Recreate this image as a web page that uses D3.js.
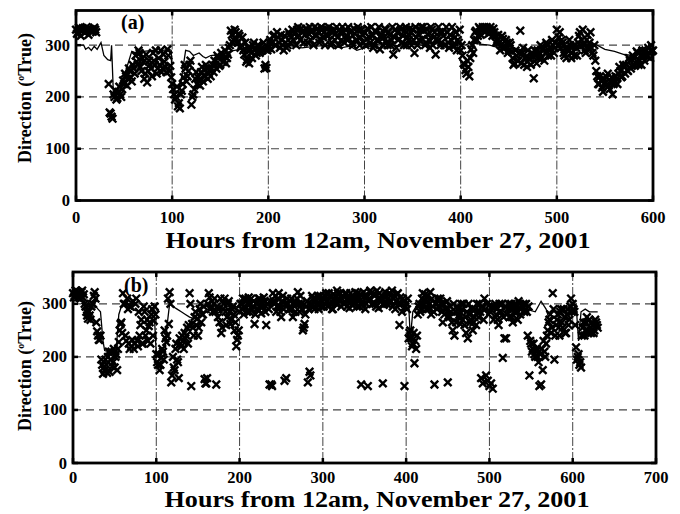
<!DOCTYPE html>
<html><head><meta charset="utf-8">
<script src="https://cdn.jsdelivr.net/npm/d3@7"></script>
<style>
html,body{margin:0;padding:0;background:#fff;}
svg{display:block;font-family:"Liberation Serif","Times New Roman",serif;font-weight:bold;}
</style></head>
<body><svg id="chart" width="680" height="514"></svg>
<script>
// ---------- DATA ----------
const xTicksA = [0,100,200,300,400,500,600];
const xTicksB = [0,100,200,300,400,500,600,700];
const yTicks = [0,100,200,300];
const xTitle = "Hours from 12am, November 27, 2001";

// Panel (a): observed hourly directions. Even hours (0,2,4,...) and odd hours (1,3,5,...); null = no data
const dirAeven = [
330,325,332,328,330,326,331,329,330,327,
330,null,null,null,null,null,null,225,168,158,
200,195,210,205,215,225,240,235,250,230,
255,280,262,285,250,268,245,228,270,255,
285,262,245,275,290,255,268,248,280,260,
225,205,200,182,178,212,238,255,240,262,
185,205,235,225,232,248,230,240,255,245,
240,262,270,255,275,262,278,270,265,282,
300,320,310,325,305,318,300,290,305,272,
265,285,300,292,285,298,288,290,255,256,
295,310,305,320,300,315,295,310,290,305,
300,320,315,310,325,330,318,332,328,320,
330,322,310,328,335,318,326,312,330,325,
332,318,328,305,330,322,315,330,310,325,
330,318,312,328,300,322,310,330,315,320,
325,312,330,305,318,300,325,310,292,320,
315,330,300,320,310,282,330,325,312,330,
318,328,300,310,325,330,285,315,322,330,
312,328,305,320,295,330,315,282,308,325,
305,318,300,325,295,310,300,315,290,305,
290,280,262,245,258,275,300,310,328,318,
332,330,333,328,331,330,326,332,318,310,
305,300,312,295,305,290,300,275,265,280,
270,328,285,262,278,290,272,285,236,280,
290,282,275,295,285,300,290,280,300,295,
330,315,295,305,280,275,290,300,285,280,
295,305,325,310,300,285,320,305,295,280,
270,240,225,232,210,228,238,222,230,205,
228,235,245,250,240,258,262,250,270,260,
275,265,285,270,262,280,290,278,285,300,
290
];
const dirAodd = [
322,334,318,333,324,335,320,331,326,334,
325,null,null,null,null,null,null,170,162,205,
212,198,220,200,232,245,222,255,238,262,
245,268,290,258,275,235,282,250,262,240,
270,290,255,262,248,282,258,292,250,238,
215,195,220,188,205,225,262,230,250,270,
200,215,248,238,222,258,242,262,235,252,
255,248,262,280,260,285,268,290,275,295,
328,305,330,312,322,295,315,282,268,295,
290,275,305,280,300,285,295,305,262,290,
305,292,318,300,325,305,320,300,318,295,
325,305,330,322,300,335,310,325,305,332,
305,335,325,300,320,332,305,335,315,300,
318,335,300,325,310,335,300,325,335,305,
312,335,325,305,332,310,335,300,330,305,
300,332,315,335,295,328,310,335,315,300,
332,305,325,300,335,315,295,310,335,305,
300,335,315,332,300,310,335,300,310,335,
335,300,330,310,335,300,325,312,335,300,
325,300,335,305,320,335,298,325,310,330,
300,265,252,270,240,292,285,325,310,335,
320,335,325,335,322,335,318,325,305,320,
290,318,298,310,285,305,288,262,290,270,
285,265,295,275,258,275,262,278,290,265,
275,300,292,270,305,280,295,310,285,305,
300,325,310,285,295,290,310,275,298,300,
280,318,300,330,290,310,295,325,285,300,
250,225,240,218,235,222,245,215,238,225,
240,225,258,238,262,245,252,275,255,280,
260,288,262,280,290,270,282,295,275,288
];

// Panel (a): solid line
const lineAh = [0,8,10,13,16,19,22,26,29,33,36,37,39,42,46,50,55,58,62,66,70,80,86,90,97,99,100,103,106,110,114,118,122,128,132,135,140,150,160,170,180,190,200,210,220,235,250,265,275,285,292,300,310,320,330,340,350,360,370,380,390,400,405,410,420,430,440,450,460,470,480,490,500,510,520,530,540,550,555,560,570,580,590,600];
const lineAv = [300,300,292,296,290,298,292,305,280,272,270,300,200,205,225,240,270,288,285,280,288,290,285,290,292,290,215,205,210,240,290,288,280,285,278,275,280,282,288,292,295,292,295,298,300,295,298,300,295,298,290,295,300,305,300,298,302,300,305,300,295,302,300,305,302,300,295,298,292,290,285,292,296,295,290,300,302,292,290,288,282,280,285,300];

// Panel (b): observed hourly directions, even and odd hours
const dirBeven = [
320,315,325,312,318,322,312,300,285,272,
278,295,300,322,265,240,232,195,168,175,
185,200,172,210,190,180,205,215,250,265,
320,300,230,290,215,220,305,225,310,220,
240,270,225,285,250,230,265,280,240,295,
205,185,175,198,210,250,228,310,322,152,
200,175,225,190,235,220,230,245,240,225,
320,145,255,275,260,240,290,265,280,158,
150,300,312,295,285,310,148,275,265,245,
290,310,260,300,285,270,295,250,220,240,
285,300,310,295,305,300,285,310,295,262,
300,290,310,282,295,305,260,300,148,148,
320,300,285,310,295,275,315,155,160,300,
290,310,275,305,300,322,285,300,250,262,
295,152,172,300,310,290,305,315,300,295,
310,300,320,295,315,305,290,310,300,320,
305,295,315,300,320,310,292,305,315,300,
310,320,295,148,305,315,300,145,310,320,
300,315,295,310,320,305,150,300,315,310,
320,305,295,315,305,320,260,300,310,145,
300,310,245,235,225,188,215,280,300,290,
320,305,290,315,300,280,295,148,300,310,
295,300,265,280,290,152,275,285,250,240,
265,290,280,300,270,260,245,235,280,270,
250,275,260,285,300,160,150,310,165,155,
145,150,140,295,280,270,300,285,198,235,
235,290,275,300,265,285,295,270,300,290,
295,285,300,240,165,225,215,205,210,200,
145,148,175,210,225,250,270,245,320,195,
260,280,240,290,255,275,245,290,270,310,
300,285,218,200,185,180,255,240,265,250,
270,245,260,250,265,255
];
const dirBodd = [
312,325,318,322,310,325,318,295,278,285,
270,300,315,310,248,232,240,185,180,195,
170,210,195,182,215,200,175,228,262,245,
300,240,310,225,295,232,215,300,230,285,
260,225,295,240,270,258,225,290,268,280,
190,205,185,215,195,235,240,262,300,165,
180,215,195,160,225,240,215,235,255,260,
300,262,240,285,272,255,300,280,295,150,
160,320,290,305,300,285,295,290,310,255,
300,285,275,305,262,290,280,265,232,250,
300,290,280,310,285,312,300,290,305,280,
290,310,295,300,312,285,300,290,305,145,
305,315,295,320,285,305,290,300,310,290,
305,290,300,285,310,300,315,290,255,280,
305,290,165,315,295,310,300,290,315,305,
295,315,305,320,300,290,318,305,325,310,
320,310,300,318,295,305,320,298,310,322,
295,310,318,300,322,290,315,305,325,300,
318,300,325,292,310,315,298,322,300,318,
305,325,310,290,318,300,312,285,305,295,
290,235,250,220,245,230,240,295,285,310,
300,318,305,290,322,310,285,300,290,305,
310,285,300,290,305,278,295,265,300,285,
295,275,262,290,300,275,285,300,265,290,
265,290,300,275,285,295,270,290,300,280,
285,295,270,300,290,260,285,300,275,295,
280,300,290,275,295,300,285,305,280,295,
300,290,285,295,230,210,225,200,215,190,
205,215,230,200,240,265,280,255,290,240,
270,255,285,265,290,245,280,260,295,285,
290,260,195,205,190,240,265,250,275,245,
255,265,245,270,260
];

const lineBh = [0,5,10,15,20,25,30,33,36,38,42,48,52,55,58,65,70,80,90,97,100,105,110,113,116,120,125,130,135,140,145,150,160,170,180,190,200,210,220,240,260,280,300,320,340,360,380,398,403,405,408,412,420,440,460,480,500,520,540,555,562,568,572,580,590,598,604,607,610,615,620,630];
const lineBv = [322,318,320,300,295,300,290,285,230,212,210,200,215,280,295,300,290,285,292,300,205,205,200,260,300,295,290,285,280,275,272,280,285,280,288,292,295,290,298,300,295,300,302,305,302,305,300,298,300,235,285,295,292,298,290,285,288,290,292,285,305,290,270,275,285,295,300,230,285,290,285,285];

// ---------- DRAW ----------
const svg = d3.select("#chart");

function panel(cfg){
  const g = svg.append("g");
  const x = d3.scaleLinear().domain(cfg.xDomain).range([cfg.left, cfg.right]);
  const y = d3.scaleLinear().domain(cfg.yDomain).range([cfg.bottom, cfg.top]);

  g.selectAll(".hg").data(yTicks.filter(v=>v>0)).enter().append("line")
    .attr("x1", cfg.left).attr("x2", cfg.right)
    .attr("y1", d=>y(d)).attr("y2", d=>y(d))
    .attr("stroke","#444").attr("stroke-width",1.2).attr("stroke-dasharray","8,5");
  g.selectAll(".vg").data(cfg.xTicks.slice(1,-1)).enter().append("line")
    .attr("x1", d=>x(d)).attr("x2", d=>x(d))
    .attr("y1", cfg.top).attr("y2", cfg.bottom)
    .attr("stroke","#444").attr("stroke-width",1).attr("stroke-dasharray","9,2,2,2");

  const lineData = cfg.lineH.map((h,i)=>[h,cfg.lineV[i]]);
  g.append("path").datum(lineData)
    .attr("fill","none").attr("stroke","#000").attr("stroke-width",1.3)
    .attr("d", d3.line().x(d=>x(d[0])).y(d=>y(d[1])));

  const pts = [];
  cfg.even.forEach((v,i)=>{ if(v!=null) pts.push([i*2, v]); });
  cfg.odd.forEach((v,i)=>{ if(v!=null) pts.push([i*2+1, v]); });
  const s = 3.8;
  g.selectAll(".m").data(pts).enter().append("path")
    .attr("d", d=>{const cx=x(d[0]), cy=y(d[1]);
      return `M${cx-s},${cy-s}L${cx+s},${cy+s}M${cx-s},${cy+s}L${cx+s},${cy-s}`;})
    .attr("stroke","#000").attr("stroke-width",2.4).attr("fill","none");

  const tl = 5;
  yTicks.forEach(v=>{
    g.append("line").attr("x1",cfg.left).attr("x2",cfg.left+tl).attr("y1",y(v)).attr("y2",y(v)).attr("stroke","#000").attr("stroke-width",2.5);
    g.append("line").attr("x1",cfg.right).attr("x2",cfg.right-tl).attr("y1",y(v)).attr("y2",y(v)).attr("stroke","#000").attr("stroke-width",2.5);
  });
  cfg.xTicks.forEach(v=>{
    g.append("line").attr("x1",x(v)).attr("x2",x(v)).attr("y1",cfg.bottom).attr("y2",cfg.bottom-tl).attr("stroke","#000").attr("stroke-width",2.5);
    g.append("line").attr("x1",x(v)).attr("x2",x(v)).attr("y1",cfg.top).attr("y2",cfg.top+tl).attr("stroke","#000").attr("stroke-width",2.5);
  });

  g.append("rect").attr("x",cfg.left).attr("y",cfg.top)
    .attr("width",cfg.right-cfg.left).attr("height",cfg.bottom-cfg.top)
    .attr("fill","none").attr("stroke","#000").attr("stroke-width",2.8);

  g.selectAll(".yl").data(yTicks).enter().append("text")
    .attr("x", cfg.left-6).attr("y", d=>y(d)+5.5)
    .attr("text-anchor","end").attr("font-size",16.5).text(d=>d);
  g.selectAll(".xl").data(cfg.xTicks).enter().append("text")
    .attr("x", d=>x(d)).attr("y", cfg.xLabelY)
    .attr("text-anchor","middle").attr("font-size",16.5).text(d=>d);

  g.append("text").attr("x", cfg.titleX).attr("y", cfg.titleY)
    .attr("text-anchor","middle").attr("font-size",23)
    .attr("textLength",425).attr("lengthAdjust","spacingAndGlyphs").text(xTitle);
  const yt = g.append("text").attr("transform",`translate(${cfg.yTitleX},${cfg.yTitleY}) rotate(-90)`)
    .attr("text-anchor","middle").attr("font-size",18);
  yt.append("tspan").text("Direction (");
  yt.append("tspan").attr("font-size",10).attr("dy",-7).text("o");
  yt.append("tspan").attr("dy",7).text("True)");
  g.append("text").attr("x", cfg.labX).attr("y", cfg.labY).attr("font-size",20).text(cfg.label);
}

panel({xDomain:[0,600], yDomain:[0,367], left:76, right:653, top:10.5, bottom:200.5,
  xTicks:xTicksA, even:dirAeven, odd:dirAodd, lineH:lineAh, lineV:lineAv,
  xLabelY:223, titleX:378, titleY:248, yTitleX:31, yTitleY:98, labX:121, labY:29, label:"(a)"});
panel({xDomain:[0,700], yDomain:[0,360], left:73, right:656, top:272, bottom:463,
  xTicks:xTicksB, even:dirBeven, odd:dirBodd, lineH:lineBh, lineV:lineBv,
  xLabelY:483, titleX:377, titleY:507, yTitleX:31, yTitleY:366, labX:124, labY:292, label:"(b)"});
</script></body></html>
